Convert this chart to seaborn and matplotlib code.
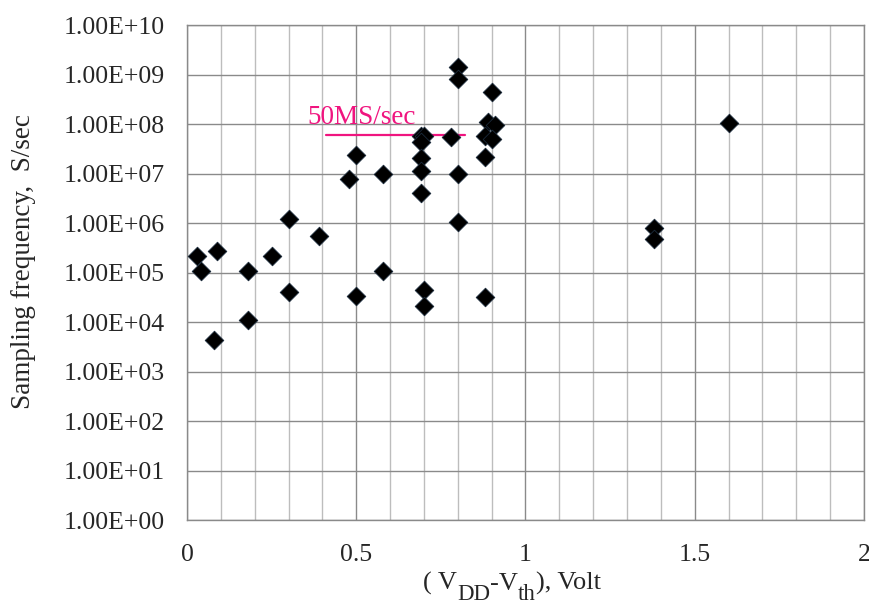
"""Sampling frequency vs overdrive voltage (log scale scatter)."""

import matplotlib

matplotlib.use("Agg")
import matplotlib.pyplot as plt
import matplotlib.ticker as mticker
import pandas as pd
import seaborn as sns

sns.set_style("white")
plt.rcParams["font.family"] = ["Liberation Serif", "DejaVu Serif"]

# values
overdrive_volt = [
    0.80, 0.80, 0.90, 0.89, 0.91, 0.88, 0.90, 0.88, 0.69, 0.70,
    0.69, 0.78, 0.50, 0.69, 0.58, 0.69, 0.80, 0.48, 0.69, 0.30,
    0.80, 0.39, 0.03, 0.09, 0.25, 0.04, 0.18, 0.58, 0.30, 0.50,
    0.70, 0.70, 0.88, 0.18, 0.08, 1.38, 1.38, 1.60,
]
sampling_freq = [
    1.4e9, 8.3e8, 4.5e8, 1.08e8, 9.5e7, 5.8e7, 5.0e7, 2.2e7, 5.8e7, 5.8e7,
    4.3e7, 5.4e7, 2.4e7, 2.1e7, 1.0e7, 1.1e7, 1.0e7, 7.8e6, 4.1e6, 1.2e6,
    1.07e6, 5.4e5, 2.2e5, 2.7e5, 2.2e5, 1.08e5, 1.08e5, 1.08e5, 4.1e4, 3.3e4,
    4.4e4, 2.1e4, 3.2e4, 1.08e4, 4.3e3, 8.1e5, 4.7e5, 1.05e8,
]

y_ticks = [10.0 ** k for k in range(0, 11)]
y_tick_labels = ["1.00E+%02d" % k for k in range(0, 11)]
x_ticks = [0, 0.5, 1, 1.5, 2]
x_tick_labels = ["0", "0.5", "1", "1.5", "2"]

ref_label = "50MS/sec"
ref_x = [0.41, 0.82]
ref_y = 6e7

y_label = "Sampling frequency,  S/sec"
# x label pieces: (text, is_subscript)
x_label_parts = [("( V", False), ("DD", True), ("-V", False), ("th", True), ("), Volt", False)]

PINK = "#f0147f"
GRID_MAJOR = "#8a8a8a"
GRID_MINOR = "#bdbdbd"
W, H = 870, 606


def draw_x_label(fig, left_px, baseline_px):
    renderer = fig.canvas.get_renderer()
    x = left_px
    for text, is_sub in x_label_parts:
        size = 16.5 if is_sub else 19
        y = baseline_px + (10 if is_sub else 0)
        t = fig.text(x / W, 1 - y / H, text, fontsize=size,
                     ha="left", va="baseline")
        x += t.get_window_extent(renderer).width


def main() -> None:
    df = pd.DataFrame({"volt": overdrive_volt, "freq": sampling_freq})

    fig = plt.figure(figsize=(W / 100, H / 100), dpi=100)
    ax = fig.add_axes([0.2149, 0.1419, 0.7782, 0.8168])

    sns.scatterplot(
        data=df, x="volt", y="freq", marker="D", s=90,
        color="black", edgecolor="#1a2a3a", linewidth=0.6, ax=ax, zorder=3,
    )

    ax.set_yscale("log")
    ax.set_xlim(0, 2)
    ax.set_ylim(1, 1e10)

    ax.yaxis.set_major_locator(mticker.FixedLocator(y_ticks))
    ax.yaxis.set_major_formatter(mticker.FixedFormatter(y_tick_labels))
    ax.yaxis.set_minor_locator(mticker.NullLocator())
    ax.xaxis.set_major_locator(mticker.FixedLocator(x_ticks))
    ax.xaxis.set_major_formatter(mticker.FixedFormatter(x_tick_labels))
    ax.xaxis.set_minor_locator(mticker.MultipleLocator(0.1))

    ax.grid(True, which="major", axis="both", color=GRID_MAJOR, linewidth=1.0)
    ax.grid(True, which="minor", axis="x", color=GRID_MINOR, linewidth=1.0)
    ax.set_axisbelow(True)

    ax.tick_params(axis="both", which="major", direction="out", length=6,
                   width=1.0, color=GRID_MAJOR, labelsize=18.5)
    ax.tick_params(axis="y", which="major", pad=10)
    ax.tick_params(axis="x", which="major", pad=11)
    ax.tick_params(axis="x", which="minor", direction="out", length=3,
                   width=0.8, color=GRID_MINOR)

    for spine in ax.spines.values():
        spine.set_color(GRID_MAJOR)
        spine.set_linewidth(1.0)

    # 50 MS/s reference line
    ax.plot(ref_x, [ref_y, ref_y], color=PINK, linewidth=1.6, zorder=2)
    ax.text(0.357, 1.0e8, ref_label, color=PINK, fontsize=19.5,
            ha="left", va="baseline")

    ax.set_xlabel("")
    ax.set_ylabel("")
    fig.text(24 / W, 1 - 262 / H, y_label, rotation=90, fontsize=19.5,
             ha="center", va="center")
    draw_x_label(fig, 423, 590)

    fig.savefig("out.png", dpi=100)
    plt.close(fig)


if __name__ == "__main__":
    main()
